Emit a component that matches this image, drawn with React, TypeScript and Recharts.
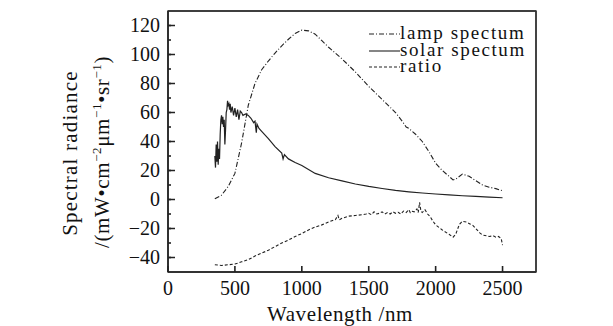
import React from "react"
import { LineChart, Line, XAxis, YAxis, ReferenceArea } from "recharts"

const lampWl = [350, 400, 450, 500, 550, 600, 650, 700, 750, 800, 850, 900, 950, 1000, 1050, 1100, 1150, 1200, 1300, 1400, 1500, 1600, 1700, 1750, 1780, 1800, 1850, 1900, 1950, 2000, 2050, 2100, 2130, 2150, 2200, 2250, 2300, 2350, 2400, 2450, 2500]
const lampVal = [0.5, 3, 9, 18, 39, 65, 80, 89.5, 95.5, 101, 106, 110.5, 114.5, 116.8, 116.3, 114, 109.5, 105, 97, 88, 78, 69, 60, 54, 50, 49, 45, 40, 33, 25, 20, 16, 13.5, 14, 17.5, 16, 13, 10, 8.5, 7.5, 6]

const solarWl = [350, 355, 360, 365, 370, 375, 380, 385, 390, 395, 400, 405, 410, 415, 420, 425, 430, 435, 440, 445, 450, 455, 460, 465, 470, 480, 490, 500, 510, 520, 530, 540, 550, 560, 580, 600, 620, 640, 650, 660, 665, 680, 700, 750, 800, 850, 860, 870, 900, 950, 1000, 1100, 1200, 1300, 1400, 1500, 1600, 1700, 1800, 1900, 2000, 2100, 2200, 2300, 2400, 2500]
const solarVal = [30, 22, 38, 26, 40, 24, 35, 28, 45, 55, 58, 52, 57, 50, 55, 38, 48, 60, 62, 68, 65, 66, 62, 66, 60, 64, 58, 63, 57, 62, 55, 61, 60, 58, 59, 58, 56, 53, 54, 46, 52, 49, 47, 42, 36.5, 32, 28, 31, 28, 25.5, 23.5, 18, 15, 12.8, 10.7, 9, 7.6, 6.3, 5.3, 4.5, 3.8, 3.2, 2.6, 2.1, 1.6, 1.2]

const ratioWl = [350, 400, 450, 500, 550, 600, 650, 700, 750, 800, 850, 900, 950, 1000, 1050, 1100, 1150, 1200, 1230, 1250, 1270, 1280, 1300, 1350, 1400, 1450, 1480, 1500, 1520, 1540, 1560, 1580, 1600, 1620, 1640, 1660, 1680, 1700, 1720, 1740, 1760, 1780, 1800, 1810, 1820, 1840, 1860, 1870, 1880, 1890, 1900, 1920, 1940, 1960, 1980, 2000, 2050, 2100, 2130, 2150, 2170, 2180, 2200, 2230, 2260, 2280, 2300, 2330, 2350, 2380, 2400, 2430, 2450, 2470, 2490, 2500]
const ratioVal = [-45, -45.5, -45, -44.5, -43, -41.5, -39, -37, -35, -32.5, -30, -28, -25.5, -23.5, -21, -19, -17.5, -15.5, -14.5, -14, -11, -14, -13, -11.5, -11, -10.5, -10, -9.5, -10.5, -8.5, -10, -9.5, -8.5, -10, -9, -10, -8.5, -9.5, -8.8, -10, -8, -9, -7, -9, -8, -8.5, -6.5, -9, -2, -8, -9, -7, -10, -12, -15, -17.5, -21, -24, -26, -24, -19, -17, -15, -15.5, -17, -18, -20, -23, -24.5, -25, -25.5, -25, -26, -25.5, -27, -31.5]

const xMajor = [0, 500, 1000, 1500, 2000, 2500]
const xTop = [0, 250, 500, 750, 1000, 1250, 1500, 1750, 2000, 2250, 2500, 2750]
const yTicks = [-40, -30, -20, -10, 0, 10, 20, 30, 40, 50, 60, 70, 80, 90, 100, 110, 120]

const toRows = (wl: number[], val: number[]) => wl.map((w, i) => ({ wl: w, v: val[i] }))

const series = [
  { name: "lamp spectum", data: toRows(lampWl, lampVal), dash: "5 2 1 2" },
  { name: "solar spectum", data: toRows(solarWl, solarVal), dash: undefined },
  { name: "ratio", data: toRows(ratioWl, ratioVal), dash: "3 2" },
]

const W = 613
const H = 326
const PLOT = { left: 168, top: 11, right: 536, bottom: 272 }
const EDGE = 20 // size given to the top / right frame axes

const INK = "#222"
const FONT = "'Liberation Serif', 'Times New Roman', serif"
const fmt = (v: number) => (v < 0 ? "\u2212" + Math.abs(v) : String(v))

function LeftTick(props: any) {
  const { x, y, payload } = props
  const major = payload.value % 20 === 0
  const ax = Number(x) + 8
  return (
    <g>
      {major && <path d={`M${ax},${y}h7`} stroke={INK} strokeWidth={1.5} fill="none" />}
      {major && (
        <text x={x} y={Number(y) + 6.5} textAnchor="end" fontSize={20} fontFamily={FONT} fill="#111">
          {fmt(payload.value)}
        </text>
      )}
    </g>
  )
}

function BottomTick(props: any) {
  const { x, y, payload } = props
  return (
    <text x={x} y={Number(y) + 15} textAnchor="middle" fontSize={20} fontFamily={FONT} fill="#111">
      {payload.value}
    </text>
  )
}

export default function App() {
  return (
    <div style={{ position: "absolute", left: 0, top: 0, width: W, height: H, background: "#fff", fontFamily: FONT, color: "#111" }}>
      <LineChart width={W} height={H}
        margin={{ top: PLOT.top - EDGE, right: W - PLOT.right - EDGE, bottom: H - PLOT.bottom - 30, left: 0 }}>
        <XAxis dataKey="wl" type="number" domain={[0, 2750]} ticks={xMajor} interval={0} height={30}
          stroke={INK} strokeWidth={1.6} tickSize={-6} tickMargin={14} tick={<BottomTick />} />
        <XAxis xAxisId="top" orientation="top" dataKey="wl" type="number" domain={[0, 2750]} ticks={xTop} interval={0}
          height={EDGE} stroke="#333" strokeWidth={1.4} tickSize={-4} tick={false} />
        <YAxis type="number" domain={[-50, 130]} ticks={yTicks} interval={0} width={PLOT.left}
          stroke={INK} strokeWidth={1.6} tickSize={-3} tickMargin={11} tick={<LeftTick />} />
        <YAxis yAxisId="right" orientation="right" type="number" domain={[-50, 130]} ticks={yTicks} interval={0}
          width={EDGE} stroke="#333" strokeWidth={1.4} tickSize={-5} tick={false} />
        <ReferenceArea x1={0} x2={2750} y1={-50} y2={130} fill="none" stroke="#333" strokeWidth={1.4} ifOverflow="visible" />
        {series.map((s) => (
          <Line key={s.name} data={s.data} dataKey="v" name={s.name} type="linear"
            stroke={INK} strokeWidth={s.dash ? 1.1 : 1.2} strokeDasharray={s.dash} dot={false} isAnimationActive={false} />
        ))}
      </LineChart>

      <div style={{ position: "absolute", left: 70, top: 153, transform: "translate(-50%, -50%) rotate(-90deg)", whiteSpace: "nowrap", fontSize: 21, letterSpacing: 1.2, lineHeight: 1 }}>
        Spectral radiance
      </div>
      <div style={{ position: "absolute", left: 101, top: 152, transform: "translate(-50%, -50%) rotate(-90deg)", whiteSpace: "nowrap", fontSize: 21, letterSpacing: 0.6, lineHeight: 1 }}>
        /(mW•cm<sup style={{ fontSize: 13 }}>−2</sup>μm<sup style={{ fontSize: 13 }}>−1</sup>•sr<sup style={{ fontSize: 13 }}>−1</sup>)
      </div>
      <div style={{ position: "absolute", left: 340, top: 304, transform: "translateX(-50%)", whiteSpace: "nowrap", fontSize: 21, letterSpacing: 0.6, lineHeight: 1 }}>
        Wavelength /nm
      </div>

      <div style={{ position: "absolute", left: 369, top: 25 }}>
        {series.map((s) => (
          <div key={s.name} style={{ height: 16.5, lineHeight: "16.5px", fontSize: 19, letterSpacing: 1.6, whiteSpace: "nowrap", display: "flex" }}>
            <svg width={31} height={16} style={{ flex: "none" }}>
              <line x1={0} x2={31} y1={9} y2={9} stroke={INK} strokeWidth={1.1} strokeDasharray={s.dash} />
            </svg>
            <span>{s.name}</span>
          </div>
        ))}
      </div>
    </div>
  )
}
